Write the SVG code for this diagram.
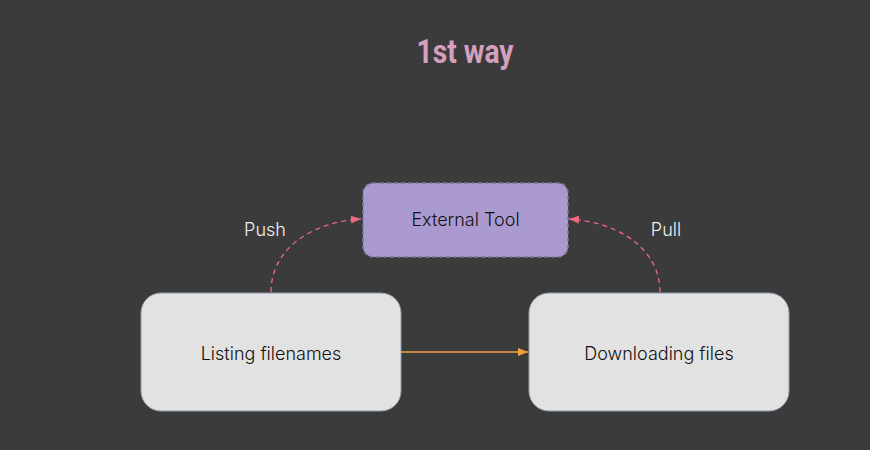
<svg xmlns="http://www.w3.org/2000/svg" width="870" height="450" viewBox="0 0 870 450">
<style>
.bg{fill:#3b3b3b}
.title{font-family:Roboto,"Liberation Sans",sans-serif;font-weight:bold;font-size:33px;fill:#d4a0bd;text-anchor:middle}
.lbl{font-family:Inter,Lato,"Noto Sans",sans-serif;font-weight:300;font-size:18px;text-anchor:middle}
.proc{fill:#e2e2e2;stroke:#8ea0b4;stroke-width:1}
.tool{fill:#ab9ad0;stroke:#7a7898;stroke-width:1.5;stroke-dasharray:4 3}
.dash{fill:none;stroke:#ee6880;stroke-width:1.3;stroke-dasharray:5 4}
.solid{fill:none;stroke:#f4a040;stroke-width:1.3}
</style>
<defs>
<marker id="mp" markerWidth="10" markerHeight="8" refX="10" refY="4" orient="auto" markerUnits="userSpaceOnUse"><path d="M0,0 L10,4 L0,8 Z" fill="#ee6880"/></marker>
<marker id="mo" markerWidth="10" markerHeight="8" refX="10" refY="4" orient="auto" markerUnits="userSpaceOnUse"><path d="M0,0 L10,4 L0,8 Z" fill="#f4a040"/></marker>
</defs>
<rect class="bg" x="0" y="0" width="870" height="450"/>
<text class="title" x="465" y="63" textLength="97" lengthAdjust="spacingAndGlyphs">1st way</text>
<g id="connectors">
<path class="dash" d="M271,292 C271,250 310,222 361,219" marker-end="url(#mp)"/>
<path class="dash" d="M660,292 C660,250 620,222 569,219" marker-end="url(#mp)"/>
<path class="solid" d="M401,352 L528,352" marker-end="url(#mo)"/>
<text class="lbl" x="265" y="236" fill="#f0f0f0">Push</text>
<text class="lbl" x="666" y="236" fill="#f0f0f0">Pull</text>
</g>
<g id="tool">
<rect class="tool" x="363" y="183" width="205" height="74" rx="10"/>
<text class="lbl" x="465.5" y="226" fill="#111">External Tool</text>
</g>
<g id="listing">
<rect class="proc" x="141" y="293" width="260" height="118" rx="20"/>
<text class="lbl" x="271" y="360" fill="#111">Listing filenames</text>
</g>
<g id="downloading">
<rect class="proc" x="529" y="293" width="260" height="118" rx="20"/>
<text class="lbl" x="659" y="360" fill="#111">Downloading files</text>
</g>
</svg>
